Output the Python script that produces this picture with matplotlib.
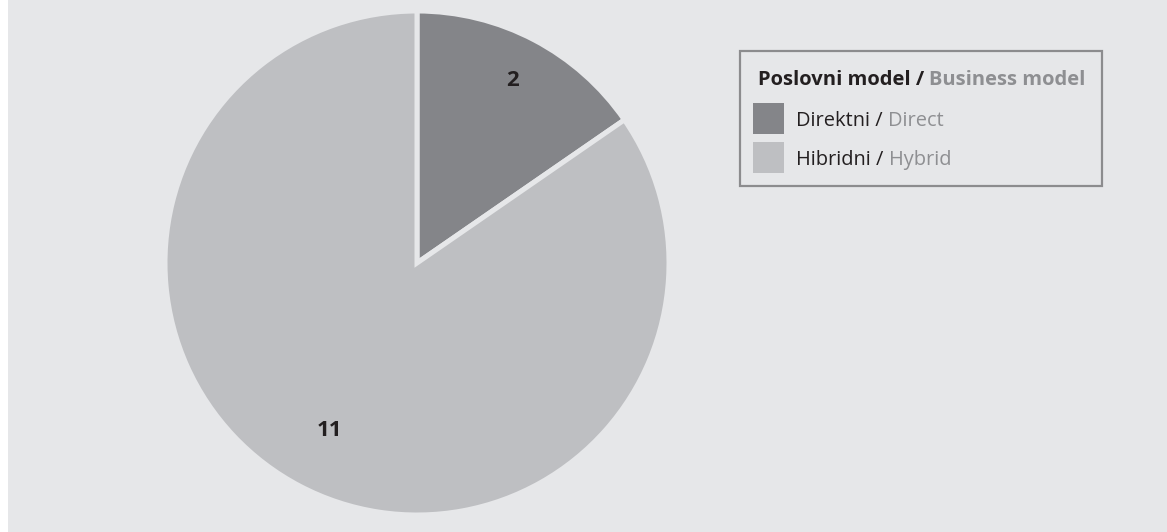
import numpy as np
import matplotlib
matplotlib.use('Agg')
import matplotlib.pyplot as plt
from matplotlib.patches import Rectangle

# Business model split
counts = [2, 11]
labels_local = ['Direktni', 'Hibridni']
labels_en = ['Direct', 'Hybrid']
title_local = 'Poslovni model'
title_en = 'Business model'

bg = '#e6e7e9'
slice_colors = ['#848589', '#bebfc2']
ink = '#231f20'
grey_text = '#8e8f92'

W, H = 1167, 532
fig = plt.figure(figsize=(W / 100., H / 100.), dpi=100, facecolor='white')
fig.patches.append(Rectangle((8. / W, 0), 1, 1, transform=fig.transFigure,
                             facecolor=bg, edgecolor='none', zorder=-5))

plt.rcParams['font.family'] = ['Open Sans', 'DejaVu Sans']

# pie centred at (417, 263) px from top-left, radius 252 px
cx, cy, r = 417, H - 263, 252
ax = fig.add_axes([(cx - r) / W, (cy - r) / H, 2. * r / W, 2. * r / H])
ax.set_zorder(1)
wedges, _ = ax.pie(counts, colors=slice_colors, startangle=90, counterclock=False,
                   wedgeprops=dict(edgecolor=bg, linewidth=3.6))
ax.set_xlim(-1, 1)
ax.set_ylim(-1, 1)
ax.set_aspect('equal')
ax.axis('off')

# value labels, placed along each wedge's middle angle
label_dist = [0.82, 0.75]
for w, n, d in zip(wedges, counts, label_dist):
    mid = np.deg2rad((w.theta1 + w.theta2) / 2.)
    ax.text(d * np.cos(mid), d * np.sin(mid), str(n), ha='center', va='center',
            fontsize=16, fontweight='bold', color=ink)

# legend drawn by hand: box, swatches, two-tone text
def px(x, y):
    return x / W, 1 - y / H

x0, y0 = px(740, 186)
fig.patches.append(Rectangle((x0, y0), (1102 - 740) / W, (186 - 51) / H,
                             transform=fig.transFigure, facecolor='none',
                             edgecolor='#8c8c8e', linewidth=1.6, zorder=3))

renderer = fig.canvas.get_renderer()

def two_tone(x, y, first, second, **kw):
    fx, fy = px(x, y)
    probe = fig.text(fx, fy, first + ' / ' + second, ha='left', va='baseline', **kw)
    w_full = probe.get_window_extent(renderer).width
    probe.remove()
    fig.text(fx, fy, first + ' /', color=ink, ha='left', va='baseline',
             zorder=5, **kw)
    fig.text(fx + w_full / W, fy, second, color=grey_text, ha='right',
             va='baseline', zorder=5, **kw)

two_tone(758, 85, title_local, title_en, fontsize=14.5, fontweight='bold')

for i, (loc, en) in enumerate(zip(labels_local, labels_en)):
    top = 103 + i * 39
    sx, sy = px(753, top + 31)
    fig.patches.append(Rectangle((sx, sy), 31. / W, 31. / H,
                                 transform=fig.transFigure,
                                 facecolor=slice_colors[i], edgecolor='none',
                                 zorder=4))
    two_tone(796, top + 23, loc, en, fontsize=14.4)

fig.savefig('out.png', dpi=100, facecolor=fig.get_facecolor())
